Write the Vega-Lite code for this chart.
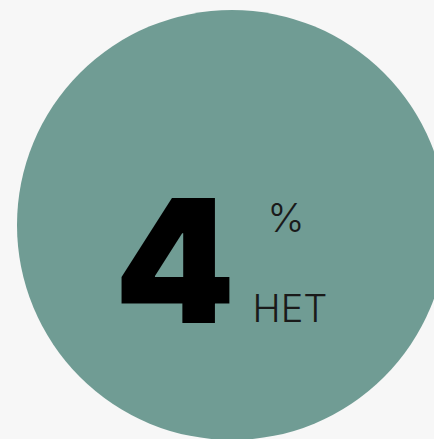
{
  "$schema": "https://vega.github.io/schema/vega-lite/v6.json",
  "autosize": {"type": "none"},
  "width": 434,
  "height": 439,
  "padding": 0,
  "background": "#f7f7f7",
  "config": {"view": {"stroke": null}},
  "data": {"values": [{"value": 4, "unit": "%", "answer": "НЕТ"}]},
  "layer": [
    {
      "mark": {"type": "point", "shape": "circle", "filled": true, "color": "#709c94", "opacity": 1, "size": 184900},
      "encoding": {
        "x": {"datum": 232, "type": "quantitative", "scale": {"domain": [0, 434], "nice": false, "zero": false}, "axis": null},
        "y": {"datum": 225, "type": "quantitative", "scale": {"domain": [0, 439], "nice": false, "zero": false, "reverse": true}, "axis": null}
      }
    },
    {
      "mark": {"type": "text", "font": "Inter", "fontWeight": 900, "fontSize": 172, "align": "center", "baseline": "alphabetic", "color": "#000000"},
      "encoding": {
        "x": {"datum": 175, "type": "quantitative"},
        "y": {"datum": 323, "type": "quantitative"},
        "text": {"field": "value"}
      }
    },
    {
      "mark": {"type": "text", "font": "Inter", "fontWeight": 300, "fontSize": 40, "align": "center", "baseline": "alphabetic", "color": "#1a1a1a"},
      "encoding": {
        "x": {"datum": 286, "type": "quantitative"},
        "y": {"datum": 232, "type": "quantitative"},
        "text": {"field": "unit"}
      }
    },
    {
      "mark": {"type": "text", "font": "Inter", "fontWeight": 300, "fontSize": 38, "align": "center", "baseline": "alphabetic", "color": "#1a1a1a"},
      "encoding": {
        "x": {"datum": 290, "type": "quantitative"},
        "y": {"datum": 322, "type": "quantitative"},
        "text": {"field": "answer"}
      }
    }
  ]
}
